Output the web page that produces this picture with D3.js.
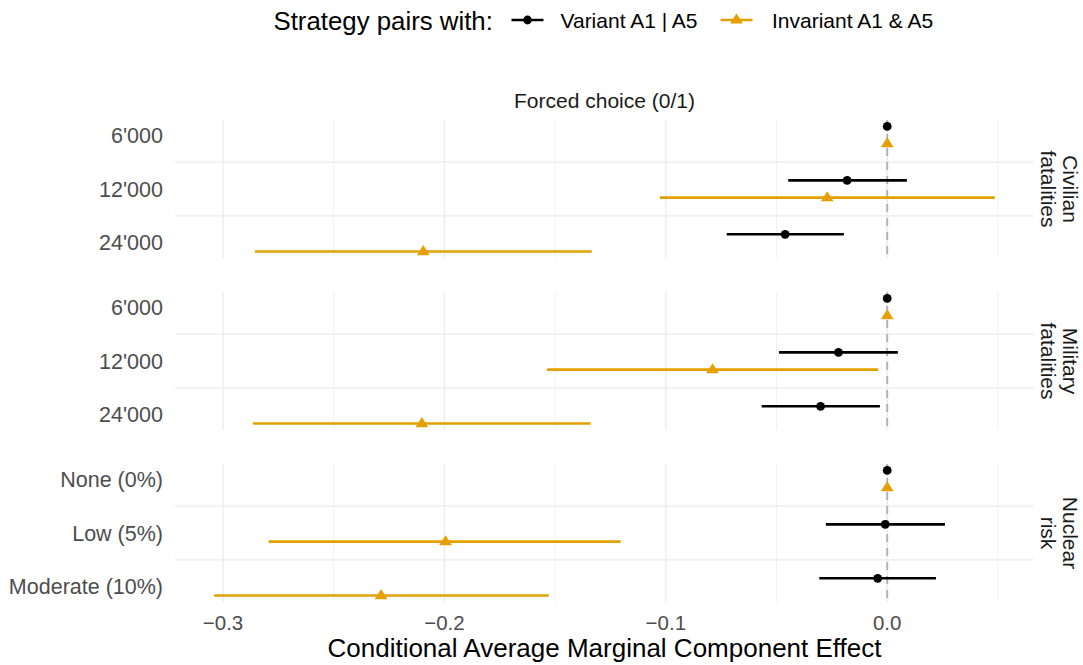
<!DOCTYPE html>
<html>
<head>
<meta charset="utf-8">
<script src="https://cdn.jsdelivr.net/npm/d3@7"></script>
<style>
  html, body { margin: 0; padding: 0; background: #fff; }
  svg { display: block; font-family: "Liberation Sans", Arial, Helvetica, sans-serif; }
</style>
</head>
<body>
<svg id="chart" width="1083" height="665"></svg>
<script>
// Facets (attributes) and their levels; the first level of each is the reference.
const attributes = ["Civilian\nfatalities", "Military\nfatalities", "Nuclear\nrisk"];
const levels = [
  ["6'000", "12'000", "24'000"],
  ["6'000", "12'000", "24'000"],
  ["None (0%)", "Low (5%)", "Moderate (10%)"]
];
const seriesNames = ["Variant A1 | A5", "Invariant A1 & A5"];
const seriesColors = ["#000000", "#E69F00"];

// Conditional AMCE estimates and 95% intervals, one row per attribute.
const variantEst = [[0, -0.0181, -0.0461], [0, -0.0220, -0.0301], [0, -0.0009, -0.0043]];
const variantLo  = [[0, -0.0447, -0.0725], [0, -0.0489, -0.0567], [0, -0.0277, -0.0307]];
const variantHi  = [[0,  0.0089, -0.0196], [0,  0.0048, -0.0033], [0,  0.0261,  0.0220]];
const invariantEst = [[0, -0.0271, -0.2096], [0, -0.0789, -0.2102], [0, -0.1995, -0.2286]];
const invariantLo  = [[0, -0.1027, -0.2856], [0, -0.1537, -0.2865], [0, -0.2794, -0.3040]];
const invariantHi  = [[0,  0.0486, -0.1335], [0, -0.0041, -0.1340], [0, -0.1204, -0.1529]];

const xTicks = [-0.3, -0.2, -0.1, 0.0];
const xMinor = [-0.25, -0.15, -0.05, 0.05];
const facetTitle = "Forced choice (0/1)";
const xTitle = "Conditional Average Marginal Component Effect";
const legendTitle = "Strategy pairs with:";

// Tidy rows built from the arrays above
const rows = [];
attributes.forEach((a, i) => {
  levels[i].forEach((lv, j) => {
    rows.push({panel: i, pos: j + 1, series: 0, est: variantEst[i][j], lo: variantLo[i][j], hi: variantHi[i][j]});
    rows.push({panel: i, pos: j + 1, series: 1, est: invariantEst[i][j], lo: invariantLo[i][j], hi: invariantHi[i][j]});
  });
});

const svg = d3.select("#chart");
const left = 175, right = 1034;
const panelH = 138, panelGap = 34, firstTop = 120;
const dodge = [-0.16, 0.16];

const x = d3.scaleLinear().domain([-0.3217, 0.0663]).range([left, right]);
const panelTop = i => firstTop + i * (panelH + panelGap);
const yScales = attributes.map((a, i) =>
  d3.scaleLinear().domain([0.72, 3.28]).range([panelTop(i), panelTop(i) + panelH]));

const gridCol = "#ebebeb";
const textGrey = "#4d4d4d";

attributes.forEach((a, i) => {
  const y = yScales[i];
  const g = svg.append("g");
  const y0 = panelTop(i), y1 = panelTop(i) + panelH;

  // minor vertical grid
  g.selectAll("line.minor").data(xMinor).join("line")
    .attr("x1", d => x(d)).attr("x2", d => x(d))
    .attr("y1", y0).attr("y2", y1)
    .attr("stroke", gridCol).attr("stroke-width", 0.7);
  // major vertical grid
  g.selectAll("line.major").data(xTicks).join("line")
    .attr("x1", d => x(d)).attr("x2", d => x(d))
    .attr("y1", y0).attr("y2", y1)
    .attr("stroke", gridCol).attr("stroke-width", 1.3);
  // horizontal separators between levels
  g.selectAll("line.hsep").data([1.5, 2.5]).join("line")
    .attr("x1", left).attr("x2", right)
    .attr("y1", d => y(d)).attr("y2", d => y(d))
    .attr("stroke", gridCol).attr("stroke-width", 1.3);

  // zero reference line
  g.append("line")
    .attr("x1", x(0)).attr("x2", x(0))
    .attr("y1", y0).attr("y2", y1)
    .attr("stroke", "#b3b3b3").attr("stroke-width", 2)
    .attr("stroke-dasharray", "8,6");

  // level labels
  g.selectAll("text.lvl").data(levels[i]).join("text")
    .attr("x", 163).attr("y", (d, j) => y(j + 1))
    .attr("dy", "0.35em")
    .attr("text-anchor", "end")
    .attr("font-size", 21.5)
    .attr("fill", textGrey)
    .text(d => d);

  // strip label on the right, rotated
  const lines = a.split("\n");
  const st = svg.append("text")
    .attr("transform", `translate(1063,${(y0 + y1) / 2}) rotate(90)`)
    .attr("text-anchor", "middle")
    .attr("font-size", 21)
    .attr("fill", "#1a1a1a");
  lines.forEach((ln, k) => {
    st.append("tspan").attr("x", 0).attr("dy", k === 0 ? 0 : 22).text(ln);
  });

  const pr = rows.filter(r => r.panel === i);
  // intervals
  g.selectAll("line.ci").data(pr.filter(r => r.lo !== r.hi)).join("line")
    .attr("x1", r => x(r.lo)).attr("x2", r => x(r.hi))
    .attr("y1", r => y(r.pos + dodge[r.series])).attr("y2", r => y(r.pos + dodge[r.series]))
    .attr("stroke", r => seriesColors[r.series]).attr("stroke-width", 2.6);
  // points
  pr.forEach(r => {
    const px = x(r.est), py = y(r.pos + dodge[r.series]);
    if (r.series === 0) {
      g.append("circle").attr("cx", px).attr("cy", py).attr("r", 4.4).attr("fill", seriesColors[0]);
    } else {
      g.append("path")
        .attr("d", `M${px},${py - 6.5}L${px + 6.4},${py + 3.6}L${px - 6.4},${py + 3.6}Z`)
        .attr("fill", seriesColors[1]);
    }
  });
});

// x tick labels (below last panel)
svg.selectAll("text.xt").data(xTicks).join("text")
  .attr("x", d => x(d)).attr("y", 630)
  .attr("text-anchor", "middle")
  .attr("font-size", 20.5)
  .attr("fill", textGrey)
  .text(d => d3.format(".1f")(d).replace("-", "\u2212"));

// axis title
svg.append("text")
  .attr("x", (left + right) / 2).attr("y", 657)
  .attr("text-anchor", "middle")
  .attr("font-size", 26)
  .attr("fill", "#000")
  .text(xTitle);

// facet title
svg.append("text")
  .attr("x", (left + right) / 2).attr("y", 108)
  .attr("text-anchor", "middle")
  .attr("font-size", 21)
  .attr("fill", "#1a1a1a")
  .text(facetTitle);

// legend
const lg = svg.append("g");
lg.append("text").attr("x", 273.5).attr("y", 29.5)
  .attr("font-size", 25.8).attr("fill", "#000").text(legendTitle);
const keyX = [511.5, 720.5];
const labelX = [560.5, 772];
seriesNames.forEach((s, k) => {
  const cx = keyX[k] + 16, cy = 20;
  lg.append("line").attr("x1", keyX[k]).attr("x2", keyX[k] + 32)
    .attr("y1", cy).attr("y2", cy)
    .attr("stroke", seriesColors[k]).attr("stroke-width", 2.6);
  if (k === 0) {
    lg.append("circle").attr("cx", cx).attr("cy", cy).attr("r", 4.4).attr("fill", seriesColors[0]);
  } else {
    lg.append("path")
      .attr("d", `M${cx},${cy - 6.5}L${cx + 6.4},${cy + 3.6}L${cx - 6.4},${cy + 3.6}Z`)
      .attr("fill", seriesColors[1]);
  }
  lg.append("text").attr("x", labelX[k]).attr("y", 27.5)
    .attr("font-size", 21).attr("fill", "#000").text(s);
});
</script>
</body>
</html>
